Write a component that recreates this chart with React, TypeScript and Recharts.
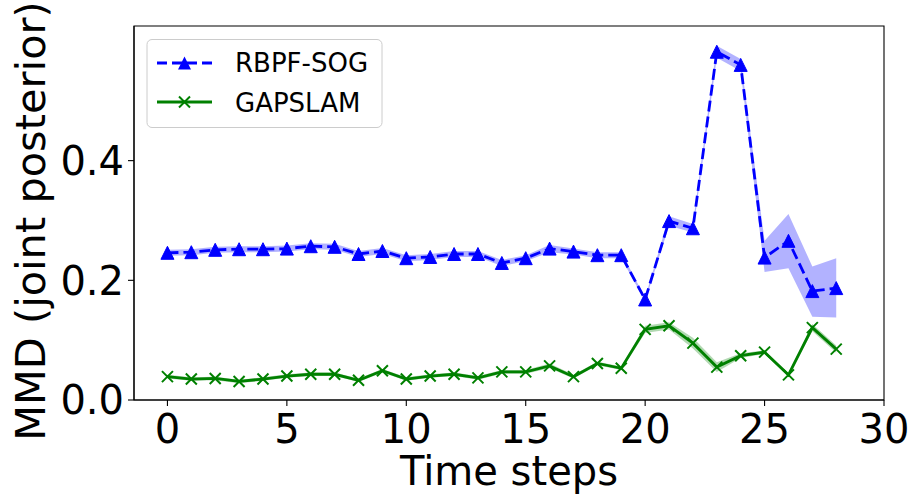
import React from "react";
import { ComposedChart, Area, Line, XAxis, YAxis, ReferenceArea } from "recharts";

const timeSteps = [0, 1, 2, 3, 4, 5, 6, 7, 8, 9, 10, 11, 12, 13, 14, 15, 16, 17, 18, 19, 20, 21, 22, 23, 24, 25, 26, 27, 28];

const rbpfMean = [0.246, 0.247, 0.251, 0.252, 0.252, 0.253, 0.257, 0.256, 0.244, 0.249, 0.237, 0.239, 0.244, 0.244, 0.229, 0.237, 0.253, 0.248, 0.242, 0.242, 0.168, 0.299, 0.287, 0.582, 0.56, 0.238, 0.266, 0.182, 0.187];
const rbpfLow = [0.241, 0.242, 0.246, 0.247, 0.247, 0.248, 0.252, 0.251, 0.239, 0.244, 0.232, 0.234, 0.239, 0.239, 0.224, 0.232, 0.247, 0.243, 0.237, 0.237, 0.165, 0.291, 0.28, 0.572, 0.55, 0.214, 0.22, 0.139, 0.138];
const rbpfHigh = [0.251, 0.252, 0.256, 0.257, 0.257, 0.258, 0.262, 0.261, 0.249, 0.254, 0.242, 0.244, 0.249, 0.249, 0.234, 0.242, 0.259, 0.253, 0.247, 0.247, 0.171, 0.307, 0.294, 0.592, 0.57, 0.266, 0.311, 0.223, 0.237];

const gapMean = [0.039, 0.035, 0.036, 0.031, 0.035, 0.04, 0.043, 0.043, 0.033, 0.049, 0.035, 0.04, 0.043, 0.037, 0.047, 0.047, 0.057, 0.039, 0.061, 0.053, 0.118, 0.124, 0.095, 0.055, 0.074, 0.08, 0.042, 0.121, 0.085];
const gapLow = [0.036, 0.032, 0.033, 0.028, 0.032, 0.037, 0.04, 0.04, 0.03, 0.046, 0.032, 0.037, 0.04, 0.034, 0.044, 0.044, 0.053, 0.036, 0.058, 0.05, 0.112, 0.118, 0.086, 0.047, 0.07, 0.077, 0.04, 0.115, 0.079];
const gapHigh = [0.042, 0.038, 0.039, 0.034, 0.038, 0.043, 0.046, 0.046, 0.036, 0.052, 0.038, 0.043, 0.046, 0.04, 0.05, 0.05, 0.061, 0.042, 0.064, 0.056, 0.124, 0.13, 0.104, 0.063, 0.078, 0.083, 0.044, 0.127, 0.091];

const xTicks = [0, 5, 10, 15, 20, 25, 30];
const yTicks = [0, 0.2, 0.4];

const BLUE = "#0000ff";
const GREEN = "#008000";
const FONT = "'DejaVu Sans', sans-serif";

const data = timeSteps.map((t, i) => ({
  t,
  rbpf: rbpfMean[i],
  rbpfBand: [rbpfLow[i], rbpfHigh[i]],
  gap: gapMean[i],
  gapBand: [gapLow[i], gapHigh[i]],
}));

function triangle(cx: number, cy: number, s: number) {
  return `M${cx},${cy - s} L${cx - s},${cy + s} L${cx + s},${cy + s} Z`;
}

function TriangleDot(props: any) {
  const { cx, cy, index } = props;
  if (cx == null || cy == null) return <g key={`tri-${index}`} />;
  return <path key={`tri-${index}`} d={triangle(cx, cy, 6.5)} fill={BLUE} stroke={BLUE} strokeWidth={1} />;
}

function CrossDot(props: any) {
  const { cx, cy, index } = props;
  if (cx == null || cy == null) return <g key={`x-${index}`} />;
  const s = 5.5;
  return (
    <path
      key={`x-${index}`}
      d={`M${cx - s},${cy - s} L${cx + s},${cy + s} M${cx - s},${cy + s} L${cx + s},${cy - s}`}
      stroke={GREEN}
      strokeWidth={2}
      fill="none"
    />
  );
}

function LegendBox() {
  return (
    <g>
      <rect x={147} y={39.5} width={235} height={88} rx={5} fill="#fff" fillOpacity={0.8} stroke="#cccccc" strokeWidth={1} />
      <line x1={157} y1={63} x2={212} y2={63} stroke={BLUE} strokeWidth={2.8} strokeDasharray="10 5" />
      <path d={triangle(184.5, 63, 6.5)} fill={BLUE} />
      <text x={235} y={72} fontSize={26} fontFamily={FONT} fill="#000">RBPF-SOG</text>
      <line x1={157} y1={102} x2={212} y2={102} stroke={GREEN} strokeWidth={2.8} />
      <path d="M179,96.5 L190,107.5 M179,107.5 L190,96.5" stroke={GREEN} strokeWidth={2} />
      <text x={235} y={112} fontSize={26} fontFamily={FONT} fill="#000">GAPSLAM</text>
    </g>
  );
}

function AxisLabels() {
  return (
    <g>
      <text x={509} y={485} textAnchor="middle" fontSize={40} fontFamily={FONT} fill="#000">Time steps</text>
      <text
        x={45}
        y={221}
        textAnchor="middle"
        fontSize={41.5}
        fontFamily={FONT}
        fill="#000"
        transform="rotate(-90 45 221)"
      >
        MMD (joint posterior)
      </text>
    </g>
  );
}

export default function App() {
  const tickStyle = { fontSize: 40, fontFamily: FONT, fill: "#000" };
  return (
    <div style={{ position: "absolute", left: 0, top: 0, width: 912, height: 499, background: "#fff" }}>
      <ComposedChart width={912} height={499} data={data} margin={{ top: 26, right: 28, left: 0, bottom: 0 }}>
        <XAxis
          dataKey="t"
          type="number"
          domain={[-1.4, 30]}
          ticks={xTicks}
          allowDataOverflow
          height={99}
          tick={tickStyle}
          tickSize={6}
          tickMargin={9}
          axisLine={{ stroke: "#000", strokeWidth: 1.1 }}
          tickLine={{ stroke: "#000", strokeWidth: 1.1 }}
        />
        <YAxis
          type="number"
          domain={[0, 0.625]}
          ticks={yTicks}
          allowDataOverflow
          width={134}
          tick={tickStyle}
          tickSize={6}
          tickMargin={4}
          tickFormatter={(v: number) => v.toFixed(1)}
          axisLine={{ stroke: "#000", strokeWidth: 1.1 }}
          tickLine={{ stroke: "#000", strokeWidth: 1.1 }}
        />
        <ReferenceArea x1={-1.4} x2={30} y1={0} y2={0.625} fill="none" stroke="#000" strokeWidth={1.1} ifOverflow="visible" />
        <Area
          type="linear"
          dataKey="rbpfBand"
          fill={BLUE}
          fillOpacity={0.3}
          stroke="none"
          isAnimationActive={false}
          activeDot={false}
        />
        <Area
          type="linear"
          dataKey="gapBand"
          fill={GREEN}
          fillOpacity={0.3}
          stroke="none"
          isAnimationActive={false}
          activeDot={false}
        />
        <Line
          type="linear"
          dataKey="rbpf"
          stroke={BLUE}
          strokeWidth={2.8}
          strokeDasharray="11 5"
          dot={TriangleDot}
          activeDot={false}
          isAnimationActive={false}
        />
        <Line
          type="linear"
          dataKey="gap"
          stroke={GREEN}
          strokeWidth={2.8}
          dot={CrossDot}
          activeDot={false}
          isAnimationActive={false}
        />
        <LegendBox />
        <AxisLabels />
      </ComposedChart>
    </div>
  );
}
